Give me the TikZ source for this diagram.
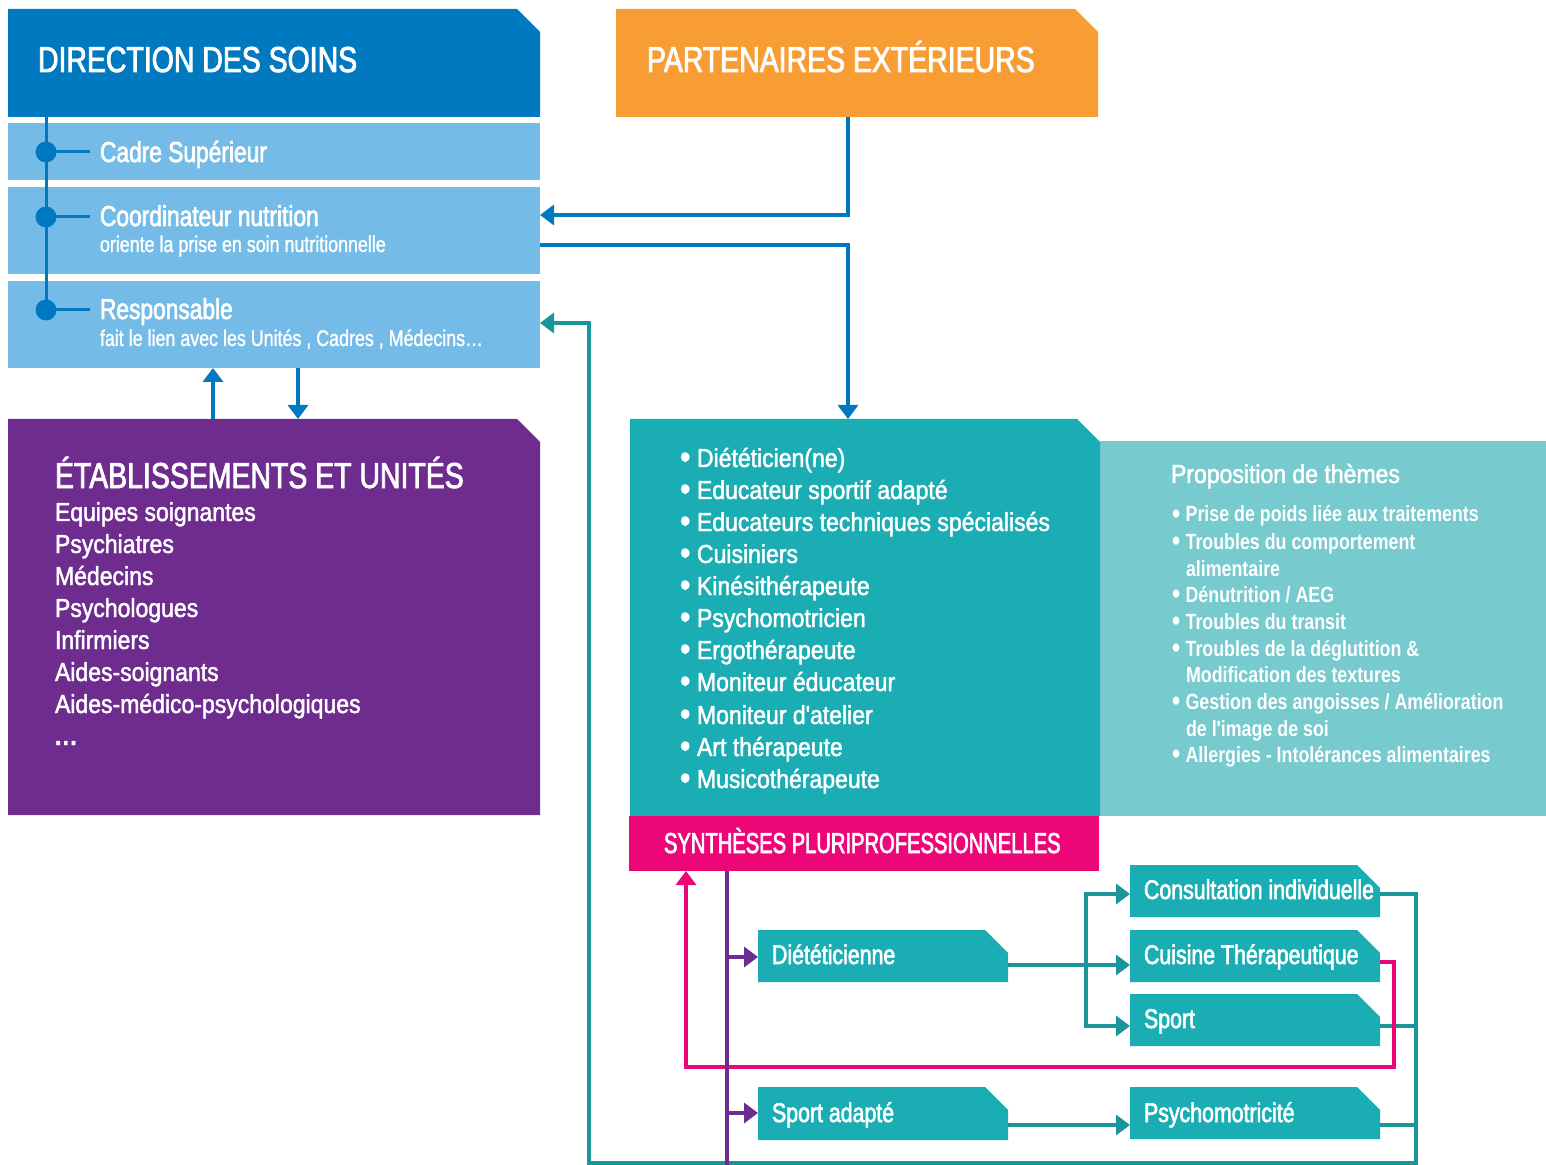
\documentclass[tikz,border=0pt]{standalone}
\usepackage{fontspec}
\setmainfont{Liberation Sans}
\newfontfamily\fT[FakeStretch=0.79,FakeBold=2.2]{Liberation Sans}
\newfontfamily\fTs[FakeStretch=0.79,FakeBold=1.2]{Liberation Sans}
\newfontfamily\fL[FakeStretch=0.885,FakeBold=1.8]{Liberation Sans}
\newfontfamily\fS[FakeStretch=0.70,FakeBold=2.2]{Liberation Sans}
\newfontfamily\fB[FakeStretch=0.81]{Liberation Sans}
\usetikzlibrary{arrows.meta,fit}
\definecolor{dirblue}{RGB}{0,121,193}
\definecolor{lblue}{RGB}{116,188,231}
\definecolor{orng}{RGB}{247,157,52}
\definecolor{purp}{RGB}{109,44,142}
\definecolor{teal1}{RGB}{27,173,180}
\definecolor{lteal}{RGB}{119,203,206}
\definecolor{magen}{RGB}{236,6,119}
\definecolor{dteal}{RGB}{26,149,154}
\newcommand\cutfill[3]{\fill[#1] (#2.south west) -- (#2.north west) -- ([xshift=-#3]#2.north east) -- ([yshift=-#3]#2.north east) -- (#2.south east) -- cycle;}
\newcommand\bul{\raisebox{-0.05em}{\scalebox{1.3}{•}}}
\begin{document}
\begin{tikzpicture}[x=0.5pt,y=-0.5pt,
  box/.style={inner sep=0pt,outer sep=0pt},
  txt/.style={anchor=base west,inner sep=0pt,outer sep=0pt,text=white},
  ttl/.style={txt,font=\fT\fontsize{18}{20}\selectfont},
  lbl/.style={txt,font=\fT\fontsize{14.4}{16}\selectfont},
  sublbl/.style={txt,font=\fTs\fontsize{11.3}{13}\selectfont},
  lst/.style={txt,font=\fL\fontsize{13}{16}\selectfont},
  thm/.style={txt,font=\fB\bfseries\fontsize{11}{13}\selectfont},
  sml/.style={txt,font=\fT\fontsize{13.5}{15}\selectfont},
  syn/.style={txt,font=\fS\fontsize{14.4}{16}\selectfont},
  dotn/.style={circle,fill=dirblue,minimum size=10.5pt,inner sep=0pt},
  dline/.style={draw=dirblue,line width=1.5pt},
  tip/.style={-{Triangle[width=10pt,length=7pt]}},
  barr/.style={draw=dirblue,line width=2.25pt,tip},
  tline/.style={draw=dteal,line width=2pt},
  tarr/.style={tline,tip},
  kline/.style={draw=magen,line width=2pt},
  karr/.style={kline,tip},
  pline/.style={draw=purp,line width=2pt},
  parr/.style={pline,tip}
]
\useasboundingbox (0,0) rectangle (1546,1165);

% ---- boxes ----
\node[box,fit={(8,9)(540,117)}] (dir) {};
\node[box,fit={(8,123)(540,180)}] (cadre) {};
\node[box,fit={(8,187)(540,274)}] (coord) {};
\node[box,fit={(8,281)(540,368)}] (resp) {};
\node[box,fit={(616,9)(1098,117)}] (part) {};
\node[box,fit={(8,419)(540,815)}] (etab) {};
\node[box,fit={(630,419)(1100,816)}] (prof) {};
\node[box,fit={(1100,441)(1546,816)}] (them) {};
\node[box,fit={(629,816)(1099,871)}] (synth) {};
\node[box,fit={(758,930)(1008,982)}] (diet) {};
\node[box,fit={(758,1087)(1008,1140)}] (spad) {};
\node[box,fit={(1130,865)(1380,917)}] (cons) {};
\node[box,fit={(1130,930)(1380,982)}] (cuis) {};
\node[box,fit={(1130,994)(1380,1046)}] (sport) {};
\node[box,fit={(1130,1087)(1380,1139)}] (psy) {};

\cutfill{dirblue}{dir}{11.5pt}
\fill[lblue] (cadre.south west) rectangle (cadre.north east);
\fill[lblue] (coord.south west) rectangle (coord.north east);
\fill[lblue] (resp.south west) rectangle (resp.north east);
\cutfill{orng}{part}{11.5pt}
\cutfill{purp}{etab}{11.5pt}
\fill[lteal] (them.south west) rectangle (them.north east);
\cutfill{teal1}{prof}{11.5pt}
\fill[magen] (synth.south west) rectangle (synth.north east);
\cutfill{teal1}{diet}{11.5pt}
\cutfill{teal1}{spad}{11.5pt}
\cutfill{teal1}{cons}{11.5pt}
\cutfill{teal1}{cuis}{11.5pt}
\cutfill{teal1}{sport}{11.5pt}
\cutfill{teal1}{psy}{11.5pt}

% ---- helper coordinates ----
\coordinate (x90) at (90,0);
\coordinate (xb) at (848,0);
\coordinate (y215) at (0,215);
\coordinate (y245) at (0,245);
\coordinate (x213) at (213,0);
\coordinate (x298) at (298,0);
\coordinate (xr) at (1416,0);
\coordinate (xl) at (589,0);
\coordinate (yb) at (0,1163);
\coordinate (y323) at (0,323);
\coordinate (xbus) at (1086,0);
\coordinate (y894) at (0,894);
\coordinate (y965) at (0,965);
\coordinate (y1026) at (0,1026);
\coordinate (y1125) at (0,1125);
\coordinate (xp) at (727,0);
\coordinate (ybot) at (0,1166);
\coordinate (y957) at (0,957);
\coordinate (y1113) at (0,1113);
\coordinate (xk) at (1394,0);
\coordinate (xk2) at (686,0);
\coordinate (y962) at (0,962);
\coordinate (y1067) at (0,1067);

% ---- org line with dots ----
\node[dotn] (d1) at (46,152) {};
\node[dotn] (d2) at (46,217) {};
\node[dotn] (d3) at (46,310) {};
\draw[dline] (dir.south -| d1) -- (d3.center);
\draw[dline] (d1.center) -- (d1.center -| x90);
\draw[dline] (d2.center) -- (d2.center -| x90);
\draw[dline] (d3.center) -- (d3.center -| x90);

% ---- texts ----
\node[ttl] (tdir) at (38,72) {DIRECTION DES SOINS};
\node[ttl] (tpart) at (647,72) {PARTENAIRES EXTÉRIEURS};
\node[lbl] (tcadre) at (100,162) {Cadre Supérieur};
\node[lbl] (tcoord) at (100,226) {Coordinateur nutrition};
\node[sublbl] (tcoords) at (100,252) {oriente la prise en soin nutritionnelle};
\node[lbl] (tresp) at (100,319) {Responsable};
\node[sublbl] (tresps) at (100,346) {fait le lien avec les Unités , Cadres , Médecins…};

\node[ttl] (tetab) at (55,488) {ÉTABLISSEMENTS ET UNITÉS};
\node[lst] (e1) at (55,521) {Equipes soignantes};
\node[lst] (e2) at (55,553) {Psychiatres};
\node[lst] (e3) at (55,585) {Médecins};
\node[lst] (e4) at (55,617) {Psychologues};
\node[lst] (e5) at (55,649) {Infirmiers};
\node[lst] (e6) at (55,681) {Aides-soignants};
\node[lst] (e7) at (55,713) {Aides-médico-psychologiques};
\node[lst] (e8) at (55,745) {\textbf{.\kern0.05em.\kern0.05em.}};

\node[lst] (p1) at (680,467) {\bul\hspace{0.25em}Diététicien(ne)};
\node[lst] (p2) at (680,499) {\bul\hspace{0.25em}Educateur sportif adapté};
\node[lst] (p3) at (680,531) {\bul\hspace{0.25em}Educateurs techniques spécialisés};
\node[lst] (p4) at (680,563) {\bul\hspace{0.25em}Cuisiniers};
\node[lst] (p5) at (680,595) {\bul\hspace{0.25em}Kinésithérapeute};
\node[lst] (p6) at (680,627) {\bul\hspace{0.25em}Psychomotricien};
\node[lst] (p7) at (680,659) {\bul\hspace{0.25em}Ergothérapeute};
\node[lst] (p8) at (680,691) {\bul\hspace{0.25em}Moniteur éducateur};
\node[lst] (p9) at (680,724) {\bul\hspace{0.25em}Moniteur d'atelier};
\node[lst] (p10) at (680,756) {\bul\hspace{0.25em}Art thérapeute};
\node[lst] (p11) at (680,788) {\bul\hspace{0.25em}Musicothérapeute};

\node[lst] (tprop) at (1171,483) {Proposition de thèmes};
\node[thm] (th1) at (1172,522) {\bul\hspace{0.25em}Prise de poids liée aux traitements};
\node[thm] (th2) at (1172,549) {\bul\hspace{0.25em}Troubles du comportement};
\node[thm] (th3) at (1186,576) {alimentaire};
\node[thm] (th4) at (1172,602) {\bul\hspace{0.25em}Dénutrition / AEG};
\node[thm] (th5) at (1172,629) {\bul\hspace{0.25em}Troubles du transit};
\node[thm] (th6) at (1172,656) {\bul\hspace{0.25em}Troubles de la déglutition \&};
\node[thm] (th7) at (1186,682) {Modification des textures};
\node[thm] (th8) at (1172,709) {\bul\hspace{0.25em}Gestion des angoisses / Amélioration};
\node[thm] (th9) at (1186,736) {de l'image de soi};
\node[thm] (th10) at (1172,762) {\bul\hspace{0.25em}Allergies - Intolérances alimentaires};

\node[syn] (tsyn) at (664,853) {SYNTHÈSES PLURIPROFESSIONNELLES};
\node[sml] (tdiet) at (772,964) {Diététicienne};
\node[sml] (tspad) at (772,1122) {Sport adapté};
\node[sml] (tcons) at (1144,899) {Consultation individuelle};
\node[sml] (tcuis) at (1144,964) {Cuisine Thérapeutique};
\node[sml] (tsport) at (1144,1028) {Sport};
\node[sml] (tpsy) at (1144,1122) {Psychomotricité};

% ---- blue connectors ----
\draw[barr] (part.south -| xb) |- (coord.east |- y215);
\draw[barr] (coord.east |- y245) -| (prof.north -| xb);
\draw[barr] (etab.north -| x213) -- (resp.south -| x213);
\draw[barr] (resp.south -| x298) -- (etab.north -| x298);

% ---- teal connectors ----
\draw[tarr] (diet.east |- y965) -- (cuis.west |- y965);
\draw[tarr] (xbus |- y1026) -- (xbus |- y894) -- (cons.west |- y894);
\draw[tarr] (xbus |- y965) |- (sport.west |- y1026);
\draw[tarr] (spad.east |- y1125) -- (psy.west |- y1125);
\draw[tline] (sport.east |- y1026) -- (xr |- y1026);
\draw[tline] (psy.east |- y1125) -- (xr |- y1125);
\draw[tarr] (cons.east |- y894) -| (xr |- yb) -| (xl |- y323) -- (resp.east |- y323);

% ---- magenta connector ----
\draw[karr] (cuis.east |- y962) -| (xk |- y1067) -| (synth.south -| xk2);

% ---- purple connectors ----
\draw[pline] (synth.south -| xp) -- (xp |- ybot);
\draw[parr] (xp |- y957) -- (diet.west |- y957);
\draw[parr] (xp |- y1113) -- (spad.west |- y1113);
\end{tikzpicture}
\end{document}
